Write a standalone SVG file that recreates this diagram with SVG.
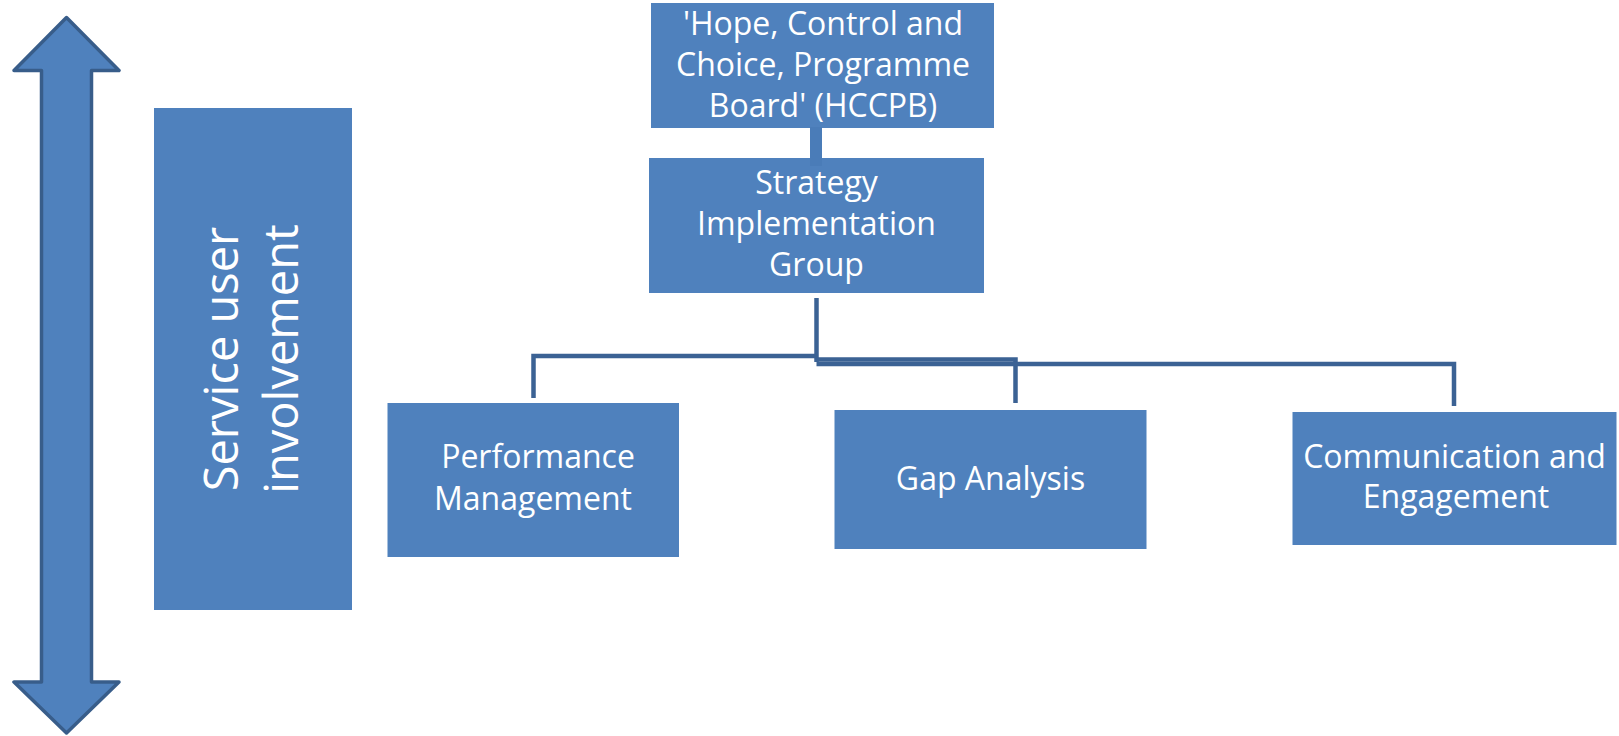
<svg xmlns="http://www.w3.org/2000/svg" width="1619" height="736" viewBox="0 0 1619 736">
  <style>
    .box { fill: #4F81BD; }
    .lbl { fill: #FFFFFF; font-family: "Open Sans", "Liberation Sans", sans-serif; font-size: 32px; text-anchor: middle; }
    .big { font-size: 47px; }
    .wire { fill: none; stroke: #3B6294; stroke-width: 4.5; stroke-linejoin: miter; stroke-linecap: butt; }
  </style>
  <rect width="1619" height="736" fill="#FFFFFF"/>

  <!-- double-headed vertical arrow -->
  <g id="arrow">
    <polygon points="66.5,17.5 119,70.5 91.5,70.5 91.5,682 119,682 66.5,733 14,682 41.5,682 41.5,70.5 14,70.5"
             fill="#4F81BD" stroke="#385D8A" stroke-width="3.5" stroke-linejoin="round"/>
  </g>

  <!-- side panel -->
  <g id="service-user">
    <rect class="box" x="154" y="108" width="198" height="502"/>
    <g transform="translate(253,359) rotate(-90)">
      <text class="lbl big" x="0" y="-15">Service user</text>
      <text class="lbl big" x="0" y="45">involvement</text>
    </g>
  </g>

  <!-- connectors -->
  <g id="connectors">
    <path class="wire" d="M816.5 298 V362"/>
    <path class="wire" d="M816.5 356 H533.5 V398"/>
    <path class="wire" d="M816.5 359.5 H1015.5 V403"/>
    <path class="wire" d="M816.5 364 H1454 V406"/>
  </g>

  <g id="hccpb">
    <rect class="box" x="651" y="3" width="343" height="125"/>
    <text class="lbl" x="823" y="35">'Hope, Control and</text>
    <text class="lbl" x="823" y="76">Choice, Programme</text>
    <text class="lbl" x="823" y="117">Board' (HCCPB)</text>
  </g>

  <g id="strategy">
    <rect class="box" x="649" y="158" width="335" height="135"/>
    <text class="lbl" x="816.5" y="194">Strategy</text>
    <text class="lbl" x="816.5" y="235">Implementation</text>
    <text class="lbl" x="816.5" y="276">Group</text>
  </g>

  <!-- link between the board and the group -->
  <g id="board-link">
    <rect x="810" y="127" width="12" height="39" fill="#4A7CB8"/>
  </g>

  <g id="performance">
    <rect class="box" x="387.5" y="403" width="291.5" height="154"/>
    <text class="lbl" x="538" y="468">Performance</text>
    <text class="lbl" x="533" y="510">Management</text>
  </g>

  <g id="gap-analysis">
    <rect class="box" x="834.5" y="410" width="312" height="139"/>
    <text class="lbl" x="990.5" y="490">Gap Analysis</text>
  </g>

  <g id="communication">
    <rect class="box" x="1292.5" y="412" width="324" height="133"/>
    <text class="lbl" x="1454.5" y="468">Communication and</text>
    <text class="lbl" x="1456" y="508">Engagement</text>
  </g>
</svg>
